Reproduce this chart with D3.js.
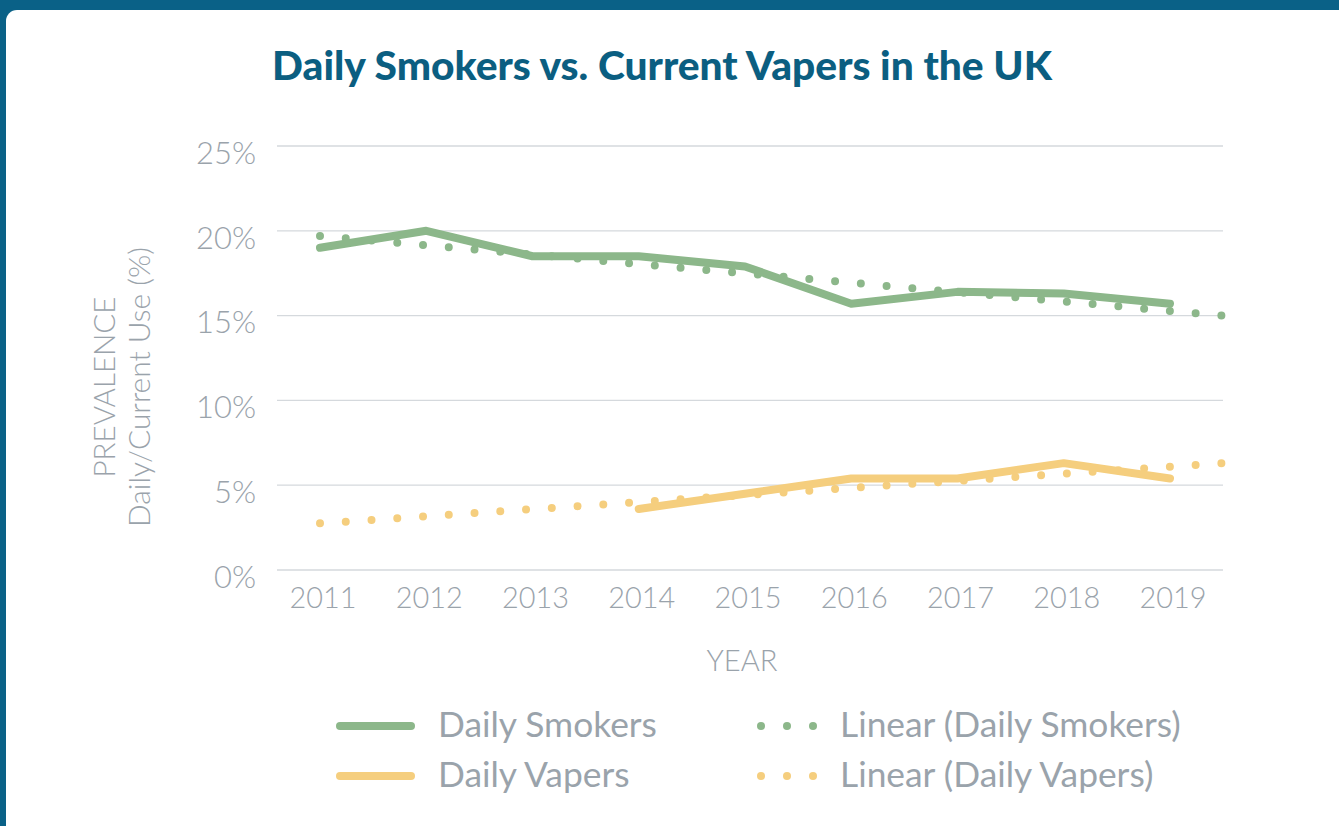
<!DOCTYPE html>
<html>
<head>
<meta charset="utf-8">
<script src="https://cdn.jsdelivr.net/npm/d3@7"></script>
<style>
  html, body { margin: 0; padding: 0; background: #0a6187; }
  svg { display: block; }
</style>
</head>
<body>
<svg id="chart" width="1339" height="826"></svg>
<script>
// ---- data ----
const years = ["2011","2012","2013","2014","2015","2016","2017","2018","2019"];
const smokers = [19.0, 20.0, 18.5, 18.5, 17.9, 15.7, 16.4, 16.3, 15.7];
const vapers = [null, null, null, 3.6, 4.5, 5.4, 5.4, 6.3, 5.4];
// linear trend lines: [position index, value]
const smokersTrend = [[0, 19.7], [8.5, 15.0]];
const vapersTrend = [[0, 2.75], [8.5, 6.3]];
const yTicks = [0, 5, 10, 15, 20, 25];
const title = "Daily Smokers vs. Current Vapers in the UK";
const legendItems = ["Daily Smokers", "Daily Vapers", "Linear (Daily Smokers)", "Linear (Daily Vapers)"];

// ---- style ----
const C = {
  frame: "#0a6187", title: "#0b5e81", text: "#9aa3ab", grid: "#d5d9dd",
  green: "#8cb78a", yellow: "#f5ce7e"
};
const FONT = "Lato, 'Open Sans', sans-serif";

const svg = d3.select("#chart");
svg.append("rect").attr("width", 1339).attr("height", 826).attr("fill", C.frame);
svg.append("rect").attr("x", 6).attr("y", 10).attr("width", 1400).attr("height", 900)
  .attr("rx", 11).attr("fill", "#fff");

const x = d3.scaleLinear().domain([0, 8]).range([320, 1170]);
const y = d3.scaleLinear().domain([0, 25]).range([570, 146]);

function fit(sel, target) {
  const n = sel.node();
  const fs = parseFloat(sel.attr("font-size"));
  const len = n.getComputedTextLength();
  const nf = fs * target / len;
  sel.attr("font-size", nf);
  return nf;
}

// title
const t = svg.append("text").attr("x", 662).attr("y", 80).attr("text-anchor", "middle")
  .attr("font-family", FONT).attr("font-weight", 900).attr("font-size", 34)
  .attr("fill", C.title).text(title);
fit(t, 780);

// gridlines
svg.append("g").selectAll("line").data(yTicks).join("line")
  .attr("x1", 277).attr("x2", 1223)
  .attr("y1", d => y(d)).attr("y2", d => y(d))
  .attr("stroke", C.grid).attr("stroke-width", 1.3);

// y tick labels
const yl = svg.append("g").selectAll("text").data(yTicks).join("text")
  .attr("x", 256).attr("y", d => y(d) + 7).attr("dy", "0.35em")
  .attr("text-anchor", "end").attr("font-family", FONT).attr("font-weight", 300)
  .attr("font-size", 30).attr("fill", C.text).text(d => d + "%");
const yfs = fit(d3.select(yl.nodes()[5]), 60);
yl.attr("font-size", yfs);

// x tick labels
const xl = svg.append("g").selectAll("text").data(years).join("text")
  .attr("x", (d, i) => x(i) + 3).attr("y", 608)
  .attr("text-anchor", "middle").attr("font-family", FONT).attr("font-weight", 300)
  .attr("font-size", 28).attr("fill", C.text).text(d => d);
const xfs = fit(d3.select(xl.nodes()[0]), 67);
xl.attr("font-size", xfs);

// axis titles
const yr = svg.append("text").attr("x", 742).attr("y", 671).attr("text-anchor", "middle")
  .attr("font-family", FONT).attr("font-weight", 300).attr("font-size", 26)
  .attr("fill", C.text).text("YEAR");
fit(yr, 71);

const yt1 = svg.append("text").attr("transform", "translate(115,387) rotate(-90)")
  .attr("text-anchor", "middle").attr("font-family", FONT).attr("font-weight", 300)
  .attr("font-size", 27).attr("fill", C.text).text("PREVALENCE");
fit(yt1, 181);
const yt2 = svg.append("text").attr("transform", "translate(150,387) rotate(-90)")
  .attr("text-anchor", "middle").attr("font-family", FONT).attr("font-weight", 300)
  .attr("font-size", 27).attr("fill", C.text).text("Daily/Current Use (%)");
fit(yt2, 280);

// lines
const line = d3.line().defined(d => d[1] != null).x(d => x(d[0])).y(d => y(d[1]));
const smokersPts = smokers.map((v, i) => [i, v]);
const vapersPts = vapers.map((v, i) => [i, v]);

const plot = svg.append("g");
function dotted(data, color) {
  const p = plot.append("path").datum(data).attr("d", line).attr("fill", "none")
    .attr("stroke", color).attr("stroke-width", 8).attr("stroke-linecap", "round");
  const len = p.node().getTotalLength();
  const n = Math.round(len / 26);
  p.attr("stroke-dasharray", "0 " + (len / n - 0.05));
}
dotted(smokersTrend, C.green);
dotted(vapersTrend, C.yellow);
plot.append("path").datum(smokersPts).attr("d", line).attr("fill", "none")
  .attr("stroke", C.green).attr("stroke-width", 8).attr("stroke-linecap", "round")
  .attr("stroke-linejoin", "round");
plot.append("path").datum(vapersPts).attr("d", line).attr("fill", "none")
  .attr("stroke", C.yellow).attr("stroke-width", 8).attr("stroke-linecap", "round")
  .attr("stroke-linejoin", "round");

// legend
const leg = svg.append("g");
const rows = [726, 776];
const colors = [C.green, C.yellow];
rows.forEach((ry, i) => {
  leg.append("line").attr("x1", 340).attr("x2", 411).attr("y1", ry).attr("y2", ry)
    .attr("stroke", colors[i]).attr("stroke-width", 8).attr("stroke-linecap", "round");
  [761, 787, 813].forEach(cx => {
    leg.append("circle").attr("cx", cx).attr("cy", ry).attr("r", 4).attr("fill", colors[i]);
  });
});
const lt = leg.selectAll("text").data(legendItems).join("text")
  .attr("x", (d, i) => i < 2 ? 438 : 840)
  .attr("y", (d, i) => rows[i % 2] + 11)
  .attr("font-family", FONT).attr("font-weight", 400).attr("font-size", 30)
  .attr("fill", C.text).text(d => d);
const lfs = fit(d3.select(lt.nodes()[0]), 219);
lt.attr("font-size", lfs);
</script>
</body>
</html>
